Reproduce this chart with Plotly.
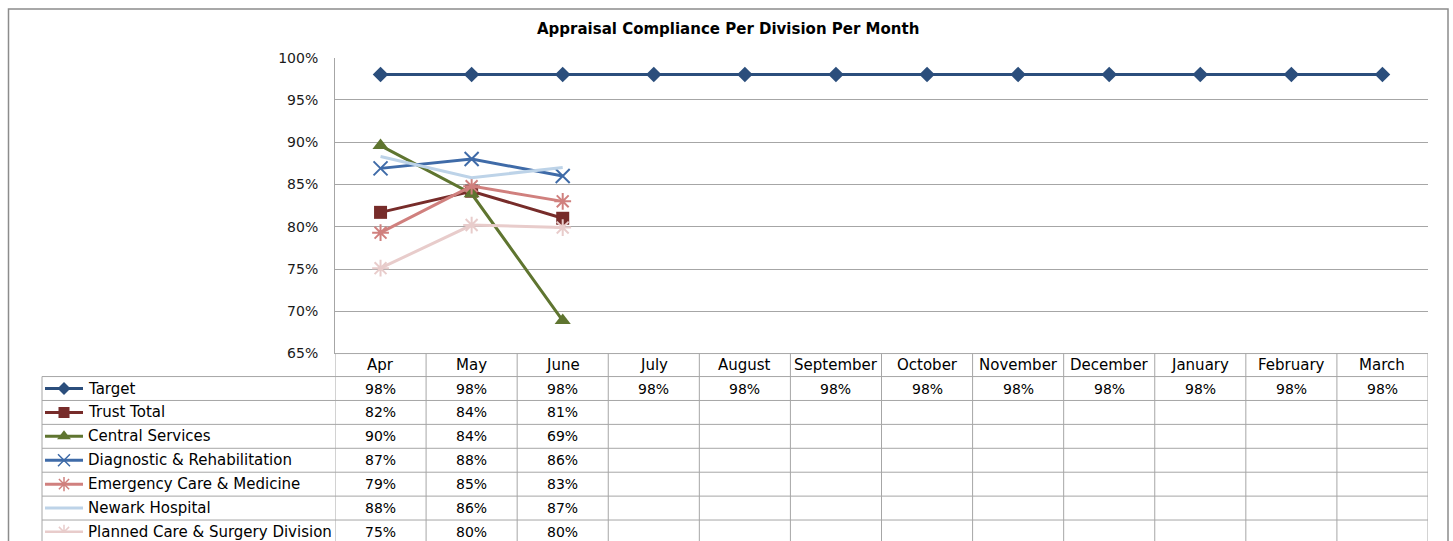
import plotly.graph_objects as go

# ---------------- data ----------------
months = ["Apr", "May", "June", "July", "August", "September", "October",
          "November", "December", "January", "February", "March"]

target = [0.98] * 12
trust_total = [0.817, 0.842, 0.810] + [None] * 9
central_services = [0.896, 0.839, 0.689] + [None] * 9
diagnostic_rehab = [0.869, 0.880, 0.860] + [None] * 9
emergency_care = [0.793, 0.848, 0.830] + [None] * 9
newark_hospital = [0.883, 0.858, 0.870] + [None] * 9
planned_care = [0.751, 0.802, 0.799] + [None] * 9

series_names = ["Target", "Trust Total", "Central Services",
                "Diagnostic & Rehabilitation", "Emergency Care & Medicine",
                "Newark Hospital", "Planned Care & Surgery Division"]
series_values = [target, trust_total, central_services, diagnostic_rehab,
                 emergency_care, newark_hospital, planned_care]

y_ticks = [0.65, 0.70, 0.75, 0.80, 0.85, 0.90, 0.95, 1.00]

# ---------------- styles ----------------
colors = ["#2B4E7C", "#772C2A", "#5F7530", "#3F6BA8", "#D0807E", "#BDD3E8", "#E8CCCB"]
symbols = ["diamond", "square", "triangle-up", "x-thin-open", "asterisk-open", None, "asterisk-open"]
msizes = [12, 13, 14, 14, 14, 0, 14]
lwidths = [3, 3, 3, 3, 3, 3, 3]

W, H = 1453, 541
FONT = "DejaVu Sans"

# vertical calibration of the photographed page (measured): shown = 0.97 * y + 7.1
V_SCALE, V_OFF = 0.97, 7.1


def px(x):
    return x / W


def yd(y_ref):
    """design pixel for a wanted on-picture pixel"""
    return (y_ref - V_OFF) / V_SCALE


def py(y_ref):
    return 1 - yd(y_ref) / H


plot_left, plot_right = 335, 1428
plot_top, plot_bottom = 56.7, 352.5
row_top = 375.5
row_h = 23.9
key_x0, key_x1 = 45, 83

fig = go.Figure()

for name, vals, c, s, ms, lw in zip(series_names, series_values, colors, symbols, msizes, lwidths):
    marker = dict(color=c, size=ms)
    if s is None:
        mode = "lines"
    else:
        mode = "lines+markers"
        marker["symbol"] = s
        if "open" in s:
            marker["line"] = dict(color=c, width=2)
    fig.add_trace(go.Scatter(x=months, y=vals, mode=mode, name=name,
                             line=dict(color=c, width=lw), marker=marker,
                             showlegend=False, cliponaxis=False, xaxis="x", yaxis="y"))

# legend keys inside the data table (helper axes in picture-pixel units)
for i, (name, c, s, ms, lw) in enumerate(zip(series_names, colors, symbols, msizes, lwidths)):
    yc = row_top + row_h * i + row_h / 2
    fig.add_trace(go.Scatter(x=[key_x0, key_x1], y=[yc, yc], mode="lines",
                             line=dict(color=c, width=lw), showlegend=False,
                             hoverinfo="skip", xaxis="x2", yaxis="y2"))
    if s is not None:
        marker = dict(color=c, size=ms - 2, symbol=s)
        if "open" in s:
            marker["line"] = dict(color=c, width=1.5)
        fig.add_trace(go.Scatter(x=[(key_x0 + key_x1) / 2], y=[yc], mode="markers",
                                 marker=marker, showlegend=False, hoverinfo="skip",
                                 xaxis="x2", yaxis="y2"))

shapes = []
grid_c = "#A6A6A6"
# outer chart border
shapes.append(dict(type="rect", xref="paper", yref="paper", x0=px(8.5), x1=px(1448),
                   y0=-0.05, y1=1 - 1 / H, line=dict(color="#8C8C8C", width=1.5)))
# header top line
shapes.append(dict(type="line", xref="paper", yref="paper", x0=px(plot_left), x1=px(plot_right),
                   y0=py(plot_bottom), y1=py(plot_bottom), line=dict(color=grid_c, width=1)))
# horizontal row lines
for i in range(len(series_names)):
    yy = row_top + row_h * i
    shapes.append(dict(type="line", xref="paper", yref="paper", x0=px(42), x1=px(plot_right),
                       y0=py(yy), y1=py(yy), line=dict(color=grid_c, width=1)))
# table left border
shapes.append(dict(type="line", xref="paper", yref="paper", x0=px(42), x1=px(42),
                   y0=py(row_top), y1=-0.02, line=dict(color=grid_c, width=1)))
# vertical column lines
for k in range(len(months) + 1):
    shapes.append(dict(type="line", xref="x", yref="paper", x0=k - 0.5, x1=k - 0.5,
                       y0=py(plot_bottom), y1=-0.02, line=dict(color=grid_c, width=1)))

annotations = []
annotations.append(dict(text="<b>Appraisal Compliance Per Division Per Month</b>",
                        xref="paper", yref="paper", x=px(728), y=py(28), showarrow=False,
                        font=dict(family=FONT, size=15, color="#000000"),
                        xanchor="center", yanchor="middle"))
for m in months:
    annotations.append(dict(text=m, xref="x", yref="paper", x=m, y=py(364), showarrow=False,
                            font=dict(family=FONT, size=15, color="#000000"),
                            xanchor="center", yanchor="middle"))
for i, (name, vals) in enumerate(zip(series_names, series_values)):
    yc = row_top + row_h * i + row_h / 2
    annotations.append(dict(text=name, xref="paper", yref="paper", x=px(86), y=py(yc),
                            showarrow=False, xanchor="left", yanchor="middle",
                            font=dict(family=FONT, size=15, color="#000000")))
    for m, v in zip(months, vals):
        if v is None:
            continue
        annotations.append(dict(text=f"{round(v * 100):.0f}%", xref="x", yref="paper", x=m,
                                y=py(yc), showarrow=False, xanchor="center", yanchor="middle",
                                font=dict(family=FONT, size=14, color="#000000")))

fig.update_layout(
    width=W, height=H,
    margin=dict(l=0, r=0, t=0, b=0),
    paper_bgcolor="white", plot_bgcolor="white",
    font=dict(family=FONT, size=14, color="#000000"),
    xaxis=dict(type="category", categoryorder="array", categoryarray=months,
               domain=[px(plot_left), px(plot_right)], range=[-0.5, 11.5],
               showgrid=False, showline=False, zeroline=False, showticklabels=False,
               ticks="", fixedrange=True),
    yaxis=dict(domain=[py(plot_bottom), py(plot_top)], range=[0.65, 1.0],
               tickvals=y_ticks, tickformat=".0%", showgrid=True, gridcolor=grid_c,
               gridwidth=1, showline=True, linecolor=grid_c, linewidth=1, zeroline=False,
               ticks="", ticklabelstandoff=13,
               tickfont=dict(family=FONT, size=14, color="#1A1A1A"), fixedrange=True),
    xaxis2=dict(domain=[0, px(plot_left)], range=[0, plot_left], visible=False,
                fixedrange=True, anchor="y2"),
    yaxis2=dict(domain=[0, py(row_top)], range=[V_OFF + V_SCALE * H, row_top], visible=False,
                fixedrange=True, anchor="x2"),
    shapes=shapes,
    annotations=annotations,
    showlegend=False,
)

post_js = (
    "document.documentElement.style.margin='0';"
    "document.body.style.margin='0';"
    "var gd=document.getElementById('{plot_id}');"
    "gd.style.position='fixed';gd.style.left='0px';gd.style.top='0px';"
)

fig.write_html("out.html", config={"displayModeBar": False}, post_script=post_js)
